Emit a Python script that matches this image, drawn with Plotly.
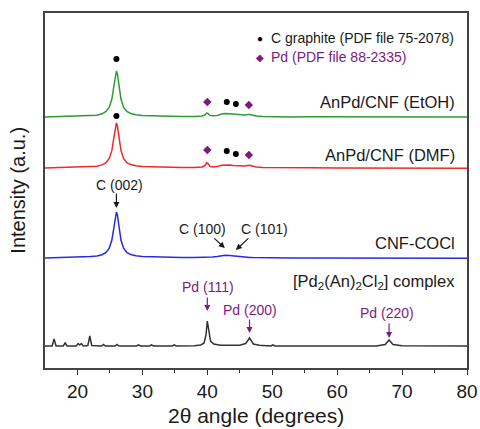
import plotly.graph_objects as go

# ---------------- data ----------------
two_theta_c = [15, 17, 19, 21, 22, 23, 23.8, 24.4, 24.9, 25.3, 25.6, 25.85, 26.0, 26.15, 26.4,
               26.7, 27.1, 27.6, 28.2, 29, 30, 32, 34, 36, 38, 39.2, 39.6, 39.9, 40.1, 40.4,
               40.8, 41.5, 42.2, 42.8, 43.4, 44.0, 44.6, 45.2, 45.8, 46.3, 46.6, 47.0, 47.6,
               48.5, 50, 53, 56, 60, 64, 68, 72, 76, 80]

int_etoh = [0, 0.3, 0.6, 1.0, 1.3, 1.8, 3.2, 5.5, 9.8, 18, 30.5, 43, 46, 43, 30.5,
            18, 9.8, 5.5, 3.5, 2.3, 1.6, 1.0, 0.7, 0.5, 0.6, 1.0, 2.0, 4.0, 3.6, 1.6,
            1.2, 1.6, 3.0, 3.6, 3.3, 2.9, 2.4, 2.0, 2.0, 2.4, 2.5, 1.8, 1.0,
            0.6, 0.3, 0.1, 0.2, 0, -0.2, 0, -0.2, -0.1, 0]

int_dmf = [0, 0.3, 0.6, 1.0, 1.3, 1.8, 3.1, 5.4, 9.6, 17.6, 30, 42, 45, 42, 30,
           17.6, 9.6, 5.4, 3.4, 2.2, 1.5, 1.0, 0.7, 0.5, 0.6, 1.0, 2.2, 5.2, 4.4, 1.6,
           1.0, 1.4, 2.7, 3.2, 3.0, 2.6, 2.2, 1.9, 1.9, 2.6, 2.8, 1.8, 0.9,
           0.5, 0.3, 0.1, 0.2, 0, -0.2, 0, -0.2, -0.1, -0.3]

int_cocl = [0, 0.3, 0.6, 1.0, 1.4, 2.0, 3.3, 5.6, 9.8, 18, 30.5, 43, 46, 43, 30.5,
            18, 9.8, 5.5, 3.4, 2.2, 1.5, 0.9, 0.6, 0.4, 0.4, 0.5, 0.6, 0.7, 0.8, 0.9,
            1.1, 1.6, 2.4, 2.8, 2.6, 2.1, 1.6, 1.2, 0.9, 0.7, 0.6, 0.5, 0.4,
            0.3, 0.2, 0.1, 0.1, 0, 0, -0.1, -0.2, -0.3, -0.3]

two_theta_k = [15, 16.1, 16.4, 16.7, 17.8, 18.1, 18.4, 19.8, 20.1, 20.35,
               20.6, 20.9, 21.6, 21.9, 22.2, 23.7, 24.0, 24.3, 25.8, 26.1,
               26.4, 29.1, 29.4, 29.7, 31.1, 31.4, 31.7, 34.6, 34.9, 35.2,
               38, 39, 39.5, 39.8, 40.0, 40.2, 40.5, 41, 42, 45,
               45.9, 46.3, 46.5, 46.7, 47.1, 48, 49.8, 50.1, 50.4, 55,
               60, 66, 67.4, 67.8, 68.0, 68.2, 68.6, 70, 75, 80]
int_complex = [0, 0, 7, 0, 0, 3, 0, 0, 2.5, 1,
               2.5, 0, 0.5, 10, 0.5, 0, 1.5, 0, 0, 1.5,
               0, 0, 1.2, 0, 0, 1.2, 0, 0, 1.2, 0,
               0.3, 1, 3, 11, 25, 16, 5, 2, 0.8, 0.8,
               2.5, 6, 8, 6, 2, 0.7, 0, 1.2, 0, 0,
               0, 0, 1.5, 4.5, 6, 4.5, 1.5, 0.3, 0, 0]

offsets = {"etoh": 251, "dmf": 200, "cocl": 110, "complex": 22}

graphite_x = [26, 43, 44.4, 26, 43, 44.4]
graphite_y = [309, 266, 264, 252, 217, 214]
pd_x = [40, 46.4, 40, 46.4]
pd_y = [266, 263, 218, 213]

FONT = "Arial, Liberation Sans, sans-serif"
PURPLE = "#7d1a7f"
TXT = "#1a1a1a"

fig = go.Figure()

def add_curve(x, y, off, color):
    fig.add_trace(go.Scatter(x=x, y=[v + off for v in y], mode="lines",
                             line=dict(color=color, width=1.5), showlegend=False))

add_curve(two_theta_c, int_etoh, offsets["etoh"], "#2e9b32")
add_curve(two_theta_c, int_dmf, offsets["dmf"], "#f02828")
add_curve(two_theta_c, int_cocl, offsets["cocl"], "#2a2ae6")
add_curve(two_theta_k, int_complex, offsets["complex"], "#333333")

fig.add_trace(go.Scatter(x=graphite_x, y=graphite_y, mode="markers",
                         marker=dict(symbol="circle", size=6, color="black"), showlegend=False))
fig.add_trace(go.Scatter(x=pd_x, y=pd_y, mode="markers",
                         marker=dict(symbol="diamond", size=6.5, color=PURPLE), showlegend=False))

ann = []
def txt(x, y, s, color=TXT, size=14, xanchor="center"):
    ann.append(dict(x=x, y=y, text=s, showarrow=False, xanchor=xanchor, yanchor="middle",
                    font=dict(family=FONT, size=size, color=color)))

def arrow(x, y, ax, ay, color):
    ann.append(dict(x=x, y=y, text="", showarrow=True, ax=ax, ay=ay, arrowhead=2,
                    arrowsize=1, arrowwidth=1.2, arrowcolor=color))

# legend
txt(49.5, 330, "C graphite (PDF file 75-2078)", TXT, 14, "left")
txt(49.5, 311, "Pd (PDF file 88-2335)", PURPLE, 14, "left")
ann.append(dict(x=48.1, y=330, text="●", showarrow=False, font=dict(size=10, color="black")))
ann.append(dict(x=48.1, y=311, text="◆", showarrow=False, font=dict(size=10, color=PURPLE)))

# sample labels
txt(78.5, 266, "AnPd/CNF (EtOH)", TXT, 16.5, "right")
txt(78.5, 213, "AnPd/CNF (DMF)", TXT, 16.5, "right")
txt(78.5, 125, "CNF-COCl", TXT, 16.5, "right")
txt(78.5, 86, "[Pd<sub>2</sub>(An)<sub>2</sub>Cl<sub>2</sub>] complex", TXT, 16.5, "right")

# reflections
txt(26.5, 183, "C (002)")
arrow(26, 160, 0, -16, TXT)
txt(39.3, 139, "C (100)")
txt(48.8, 139, "C (101)")
arrow(42.7, 120, -12, -11, TXT)
arrow(44.4, 118, 14, -13, TXT)
txt(40.1, 81, "Pd (111)", PURPLE)
arrow(40, 57, 0, -15, PURPLE)
txt(46.5, 58, "Pd (200)", PURPLE)
arrow(46.5, 35, 0, -15, PURPLE)
txt(67.6, 55, "Pd (220)", PURPLE)
arrow(68, 30, 0, -16, PURPLE)

# axis titles
ann.append(dict(xref="paper", yref="paper", x=0.5, y=-0.134, text="2θ angle (degrees)",
                showarrow=False, xanchor="center", yanchor="middle",
                font=dict(family=FONT, size=21, color=TXT)))
ann.append(dict(xref="paper", yref="paper", x=-0.066, y=0.5, text="Intensity (a.u.)",
                showarrow=False, xanchor="center", yanchor="middle", textangle=-90,
                font=dict(family=FONT, size=20, color=TXT)))

fig.update_layout(
    width=480, height=429,
    margin=dict(l=45, r=13, t=13, b=61, autoexpand=False),
    paper_bgcolor="white", plot_bgcolor="white",
    annotations=ann,
    font=dict(family=FONT, color=TXT),
    xaxis=dict(range=[15, 80], tickvals=[20, 30, 40, 50, 60, 70, 80], automargin=False,
               ticks="outside", ticklen=5, tickwidth=1.2, tickcolor="#333",
               minor=dict(tickvals=[25, 35, 45, 55, 65, 75], ticks="outside", ticklen=3,
                          tickcolor="#333", tickwidth=1),
               showline=True, linecolor="#444", linewidth=1.5, mirror=True,
               showgrid=False, zeroline=False,
               tickfont=dict(family=FONT, size=19, color=TXT)),
    yaxis=dict(range=[0, 355], showticklabels=False, ticks="", automargin=False,
               showline=True, linecolor="#444", linewidth=1.5, mirror=True,
               showgrid=False, zeroline=False),
)

fig.write_html("out.html", config={"displayModeBar": False},
               post_script="document.body.style.margin='0';document.body.style.padding='0';")
